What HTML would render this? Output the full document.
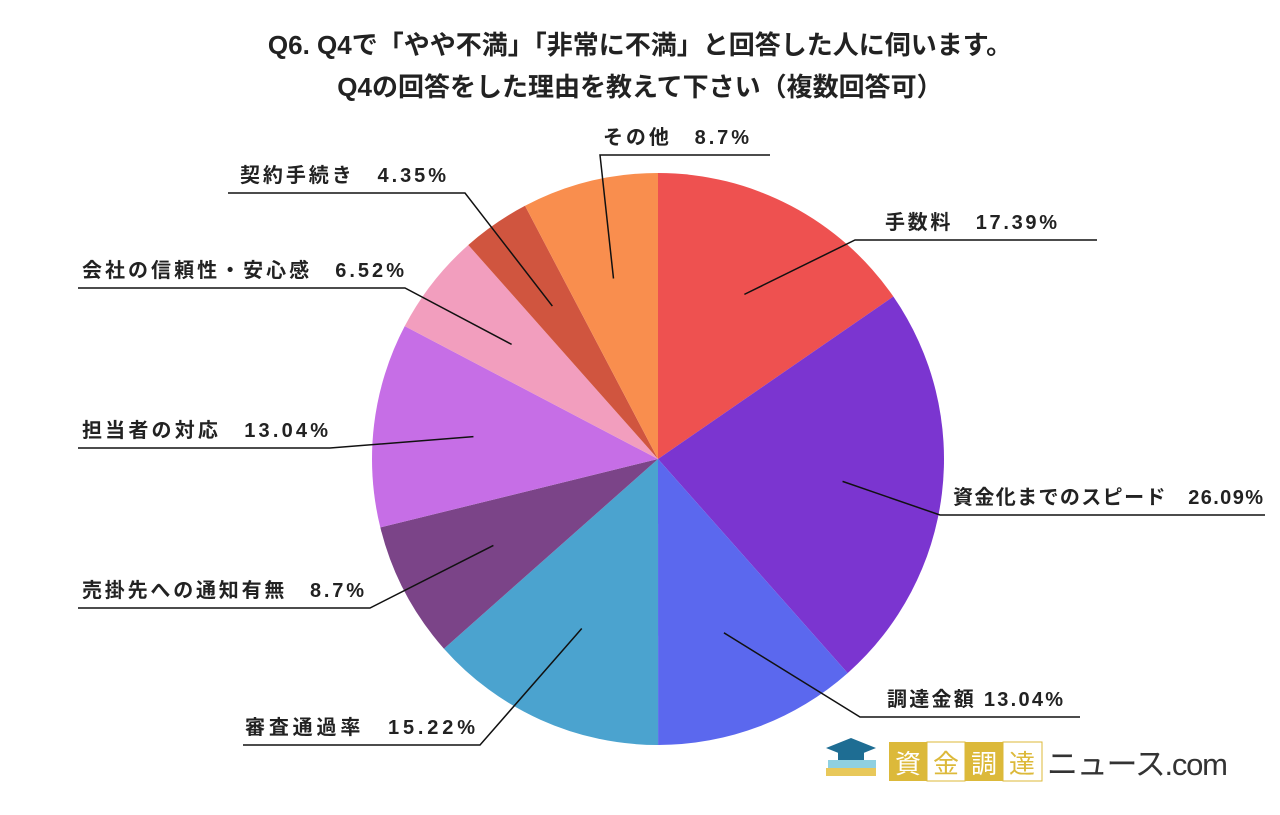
<!DOCTYPE html>
<html><head><meta charset="utf-8">
<style>
body{margin:0;width:1280px;height:810px;background:#fff;overflow:hidden;font-family:"Liberation Sans","Noto Sans CJK JP",sans-serif;}
svg text{font-family:"Liberation Sans","Noto Sans CJK JP",sans-serif;}
</style></head><body>
<svg id="chart" width="1280" height="810">
<text x="640" y="54" text-anchor="middle" font-size="26" font-weight="bold" fill="#222">Q6. Q4で「やや不満」「非常に不満」と回答した人に伺います。</text>
<text x="640" y="96" text-anchor="middle" font-size="26" font-weight="bold" fill="#222">Q4の回答をした理由を教えて下さい（複数回答可）</text>
<g id="slices"></g>
<g id="labels"></g>
<g>
<g>
<rect x="826" y="768" width="50" height="8" fill="#e8c85a"/>
<rect x="828" y="760" width="48" height="8" fill="#8fd0e0"/>
<polygon points="826,748 851,738 876,748 851,758" fill="#1e6d93"/>
<rect x="838" y="750" width="26" height="10" fill="#1e6d93"/>
</g>
<rect x="889" y="742" width="38" height="39" fill="#dcb93a"/>
<rect x="927" y="742" width="38" height="39" fill="#fff" stroke="#dcb93a"/>
<rect x="965" y="742" width="38" height="39" fill="#dcb93a"/>
<rect x="1003" y="742" width="39" height="39" fill="#fff" stroke="#dcb93a"/>
<text x="908" y="773" text-anchor="middle" font-size="26" fill="#fff">資</text>
<text x="946" y="773" text-anchor="middle" font-size="26" fill="#dcb93a">金</text>
<text x="984" y="773" text-anchor="middle" font-size="26" fill="#fff">調</text>
<text x="1022" y="773" text-anchor="middle" font-size="26" fill="#dcb93a">達</text>
<text x="1047" y="775" font-size="31" fill="#333" textLength="181">ニュース.com</text>
</g>
</svg>
<script>
const categories=["手数料","資金化までのスピード","調達金額","審査通過率","売掛先への通知有無","担当者の対応","会社の信頼性・安心感","契約手続き","その他"];
const values=[17.39,26.09,13.04,15.22,8.7,13.04,6.52,4.35,8.7];
const valueLabels=["17.39%","26.09%","13.04%","15.22%","8.7%","13.04%","6.52%","4.35%","8.7%"];
const colors=["#ee5150","#7b35d0","#5b68ee","#4ba3cf","#7b4488","#c66ee6","#f29ebe","#d0553f","#f98e4e"];
const labelText=["手数料　17.39%","資金化までのスピード　26.09%","調達金額 13.04%","審査通過率　15.22%","売掛先への通知有無　8.7%","担当者の対応　13.04%","会社の信頼性・安心感　6.52%","契約手続き　4.35%","その他　8.7%"];
// label layout: [elbowX, lineY, lineStartX, lineEndX, textX, textLength]
const layout=[[855,240,855,1097,885,172],[940,515,940,1265,953,310],[860,717,860,1080,887,176],[480,745,243,480,245,230],[370,608,78,370,82,282],[330,448,78,330,82,246],[405,288,78,405,82,322],[465,193,228,465,240,206],[600,155,600,770,603,146]];
const NS="http://www.w3.org/2000/svg";
const cx=658,cy=459,R=286;
const total=values.reduce((a,b)=>a+b,0);
function pt(a,r){return [cx+r*Math.sin(a),cy-r*Math.cos(a)];}
const gS=document.getElementById('slices'),gL=document.getElementById('labels');
let a0=0;
values.forEach((v,i)=>{
  const a1=a0+v/total*2*Math.PI;
  const p0=pt(a0,R),p1=pt(a1,R);
  const large=(a1-a0)>Math.PI?1:0;
  const p=document.createElementNS(NS,'path');
  p.setAttribute('d',`M${cx},${cy}L${p0[0]},${p0[1]}A${R},${R} 0 ${large} 1 ${p1[0]},${p1[1]}Z`);
  p.setAttribute('fill',colors[i]);
  
  
  gS.appendChild(p);
  const mid=(a0+a1)/2;
  const ip=pt(mid,R*0.65);
  const L=layout[i];
  const pl=document.createElementNS(NS,'polyline');
  pl.setAttribute('points',`${ip[0]},${ip[1]} ${L[0]},${L[1]} ${L[0]===L[2]?L[3]:L[2]},${L[1]}`);
  pl.setAttribute('fill','none');pl.setAttribute('stroke','#111');pl.setAttribute('stroke-width','1.5');
  
  
  gL.appendChild(pl);
  const t=document.createElementNS(NS,'text');
  t.setAttribute('x',L[4]);t.setAttribute('y',L[1]-11);
  t.setAttribute('font-size','20');t.setAttribute('font-weight','bold');t.setAttribute('fill','#222');
  t.setAttribute('textLength',L[5]);
  t.textContent=labelText[i];
  
  
  gL.appendChild(t);
  a0=a1;
});
</script>
</body></html>
